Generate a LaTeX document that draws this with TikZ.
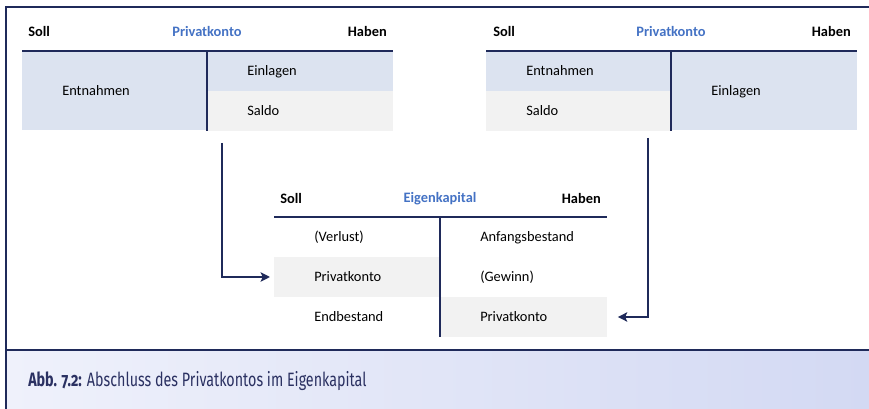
\documentclass[tikz,border=0pt]{standalone}
\usepackage{graphicx}
\usepackage{fontspec}
\setmainfont{Carlito}
\newfontfamily\capfont[Numbers=OldStyle]{Fira Sans}
\usetikzlibrary{arrows.meta}

\definecolor{navy}{RGB}{31,42,90}
\definecolor{cellblue}{RGB}{220,227,240}
\definecolor{cellgrey}{RGB}{242,242,242}
\definecolor{titleblue}{RGB}{68,114,196}
\definecolor{bandleft}{RGB}{239,241,251}
\definecolor{bandright}{RGB}{211,217,243}
\definecolor{captext}{RGB}{43,49,98}

\begin{document}
\begin{tikzpicture}[x=0.75pt,y=-0.75pt]
			\tikzstyle{cell} = [
				rectangle, anchor = north west, inner sep = 0pt,
				align = left, font = \fontsize{10.8}{13}\selectfont,
				execute at begin node = {\noindent\hspace*{30pt}\rule[-2.6pt]{0pt}{11.6pt}}
			]
			\tikzstyle{wide}=[text width = 139pt]
			\tikzstyle{narrow}=[text width = 125pt]
			\tikzstyle{tall}=[minimum height = 59.25pt]
			\tikzstyle{row}=[minimum height = 29.6pt]
			\tikzstyle{head}=[font = \fontsize{10.8}{13}\selectfont\bfseries, inner sep = 0pt]
			\tikzstyle{tline}=[-,draw=navy,line width=2pt]
			\tikzstyle{line}=[->,draw=navy,>={Stealth[length=7pt,width=7pt,inset=1.5pt]},line width=1.6pt]
			\useasboundingbox (0,0) rectangle (869,409);
			% frame and caption band
			\shade[left color=bandleft,right color=bandright] (6,350) rectangle (869,409);
			\draw[navy,line width=1.5pt] (6,409) -- (6,7) -- (869,7);
			\draw[navy,line width=1.8pt] (6,350) -- (869,350);
			% left Privatkonto
			\node[head, anchor=west] (s1) at (28,32) {Soll};
			\node[head, text=titleblue] (t1) at (207,32) {Privatkonto};
			\node[head, anchor=east] (h1) at (387,32) {Haben};
			\node[cell, wide, tall, fill=cellblue] (pl1) at (22,51) {Entnahmen};
			\node[cell, wide, row, fill=cellblue] (pl2) at (207,51) {Einlagen};
			\node[cell, wide, row, fill=cellgrey] (pl3) at (207,91) {Saldo};
			\draw (pl1.north west) -- (pl2.north east) [tline];
			\draw (pl2.north west) -- (pl3.south west) [tline];
			% right Privatkonto
			\node[head, anchor=west] (s2) at (493,32) {Soll};
			\node[head, text=titleblue] (t2) at (671,32) {Privatkonto};
			\node[head, anchor=east] (h2) at (851,32) {Haben};
			\node[cell, wide, row, fill=cellblue] (pr1) at (486,51) {Entnahmen};
			\node[cell, wide, row, fill=cellgrey] (pr2) at (486,91) {Saldo};
			\node[cell, wide, tall, fill=cellblue] (pr3) at (671,51) {Einlagen};
			\draw (pr1.north west) -- (pr3.north east) [tline];
			\draw (pr3.north west) -- (pr3.south west) [tline];
			% Eigenkapital
			\node[head, anchor=west] (s3) at (280,199) {Soll};
			\node[head, text=titleblue] (t3) at (440,199) {Eigenkapital};
			\node[head, anchor=east] (h3) at (601,199) {Haben};
			\node[cell, narrow, row] (ek1) at (274,217) {(Verlust)};
			\node[cell, narrow, row, fill=cellgrey] (ek2) at (274,257) {Privatkonto};
			\node[cell, narrow, row] (ek3) at (274,297) {Endbestand};
			\node[cell, narrow, row] (ek4) at (440,217) {Anfangsbestand};
			\node[cell, narrow, row] (ek5) at (440,257) {(Gewinn)};
			\node[cell, narrow, row, fill=cellgrey] (ek6) at (440,297) {Privatkonto};
			\draw (ek1.north west) -- (ek4.north east) [tline];
			\draw (ek4.north west) -- (ek6.south west) [tline];
			% closing arrows
			\coordinate (a1) at (222,143);
			\coordinate (a2) at (648,138);
			\draw (a1) |- (ek2.west) [line, shorten >=3pt];
			\draw (a2) |- (ek6.east) [line, shorten >=8pt];
			% caption
			\node[anchor=west, text=captext, inner sep=0pt] (cap) at (28,381)
				{\scalebox{0.74}[1]{\capfont\fontsize{14.5}{17}\selectfont\textbf{Abb. 7.2:} Abschluss des Privatkontos im Eigenkapital}};
		\end{tikzpicture}
\end{document}
